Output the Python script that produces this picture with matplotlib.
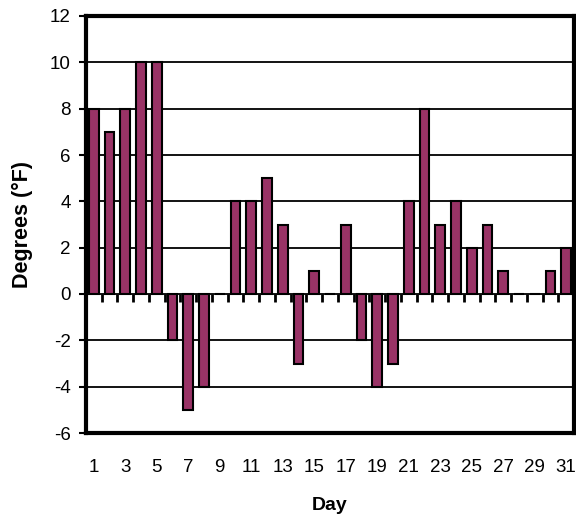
import matplotlib
matplotlib.use("Agg")
import matplotlib.pyplot as plt
import numpy as np

days = list(range(1, 32))
degrees = [8, 7, 8, 10, 10, -2, -5, -4, 0, 4, 4, 5, 3, -3, 1, 0, 3, -2, -4, -3,
           4, 8, 3, 4, 2, 3, 1, 0, 0, 1, 2]
yticks = list(range(-6, 13, 2))
xtick_labels = [str(d) for d in days[::2]]

plt.rcParams['font.family'] = ['Liberation Sans', 'DejaVu Sans']

fig = plt.figure(figsize=(5.76, 5.25), dpi=100)
ax = fig.add_axes([86/576, 1-433/525, (574-86)/576, (433-16)/525])

ax.bar(days, degrees, width=0.62, color='#993366', edgecolor='black', linewidth=1.5, zorder=3)

ax.set_xlim(0.5, 31.5)
ax.set_ylim(-6, 12)
ax.set_yticks(yticks)
ax.set_yticklabels([str(v) for v in yticks])
ax.yaxis.grid(True, color='black', linewidth=1.3, zorder=1)
ax.set_axisbelow(True)

ax.set_xticks(days[::2])
ax.set_xticklabels(xtick_labels)
ax.tick_params(axis='x', length=0, pad=19, labelsize=13.5)
ax.tick_params(axis='y', length=5, width=1.5, direction='out', pad=6, labelsize=13.5)

for s in ax.spines.values():
    s.set_linewidth(3)
    s.set_color('black')

# category boundary ticks at zero line
sec = ax.secondary_xaxis(0, transform=ax.transData)
sec.set_xticks(np.arange(0.5, 32, 1.0))
sec.set_xticklabels([])
sec.tick_params(axis='x', length=6, width=2, direction='out', color='black')
sec.spines['bottom'].set_visible(False)

ax.set_xlabel('Day', fontsize=14, fontweight='bold', labelpad=15)
ax.set_ylabel('Degrees (°F)', fontsize=15.5, fontweight='bold', labelpad=12)

fig.savefig('out.png', dpi=100)
